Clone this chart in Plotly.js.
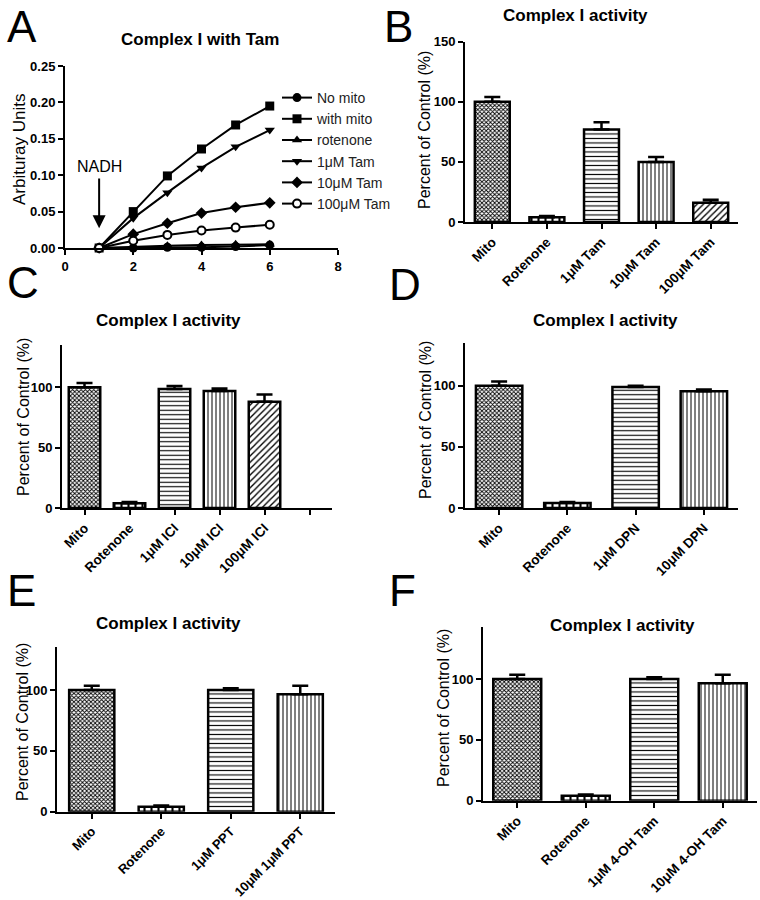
<!DOCTYPE html>
<html><head><meta charset="utf-8">
<script src="https://cdn.plot.ly/plotly-3.0.1.min.js"></script>
<style>html,body{margin:0;padding:0;background:#fff}</style>
</head><body><div id="chart" style="width:760px;height:900px"></div>
<script>
// ---- Panel A data ----
const aTime = [1, 2, 3, 4, 5, 6];
const aNames = ['No mito', 'with mito', 'rotenone', '1μM Tam', '10μM Tam', '100μM Tam'];
const aNoMito = [0, 0.000, 0.001, 0.001, 0.002, 0.004];
const aWithMito = [0, 0.050, 0.099, 0.136, 0.169, 0.195];
const aRotenone = [0, 0.002, 0.003, 0.004, 0.005, 0.005];
const aTam1 = [0, 0.041, 0.076, 0.110, 0.139, 0.162];
const aTam10 = [0, 0.019, 0.034, 0.048, 0.056, 0.062];
const aTam100 = [0, 0.010, 0.018, 0.024, 0.028, 0.032];
const aSymbols = ['circle', 'square', 'triangle-up', 'triangle-down', 'diamond', 'circle'];
const aXTicks = [0, 2, 4, 6, 8];
const aYTicks = [0, 0.05, 0.10, 0.15, 0.20, 0.25];

// ---- Bar panels ----
const bCats = ['Mito', 'Rotenone', '1μM Tam', '10μM Tam', '100μM Tam'];
const bVals = [100, 4, 77, 50, 16];
const bErr = [4, 1, 6, 4, 2.5];

const cCats = ['Mito', 'Rotenone', '1μM ICI', '10μM ICI', '100μM ICI', ' '];
const cVals = [100, 4, 98.5, 97, 88, null];
const cErr = [3.5, 1, 2.5, 2, 6, 0];

const dCats = ['Mito', 'Rotenone', '1μM DPN', '10μM DPN'];
const dVals = [100, 4, 99, 95.5];
const dErr = [3.5, 1, 1, 1.5];

const eCats = ['Mito', 'Rotenone', '1μM PPT', '10μM 1μM PPT'];
const eVals = [100, 4, 100, 96.5];
const eErr = [3.5, 1, 1.5, 7];

const fCats = ['Mito', 'Rotenone', '1μM 4-OH Tam', '10μM 4-OH Tam'];
const fVals = [100, 4, 100, 96.5];
const fErr = [3.5, 1, 1.5, 7];

const barTitle = 'Complex I activity';
const barYLabel = 'Percent of Control (%)';
const aYLabel = 'Arbituray Units';
const barYTicks = [0, 50, 100];
const bYTicks = [0, 50, 100, 150];

// ---- styles ----
const FF = '"Liberation Sans", Arial, sans-serif';
const patShape = ['x', '|', '-', '|', '/', ''];
const patSize = [3, 7, 4.5, 4, 4.5, 4];
const patSol = [0.5, 0.3, 0.25, 0.25, 0.3, 0.3];

const W = 760, H = 900;
const dx = (a, b) => [a / W, b / W];
const dy = (top, bottom) => [1 - bottom / H, 1 - top / H];

const traces = [];
const aSeries = [aNoMito, aWithMito, aRotenone, aTam1, aTam10, aTam100];
aSeries.forEach((s, i) => {
  const open = i === 5;
  traces.push({
    type: 'scatter', mode: 'lines+markers', x: aTime, y: s, name: aNames[i],
    xaxis: 'x', yaxis: 'y', cliponaxis: false,
    line: {color: '#000', width: 2},
    marker: {symbol: aSymbols[i], size: open ? 8 : 9, color: open ? '#fff' : '#000',
             line: {color: '#000', width: open ? 2 : 0}}
  });
});

function barTrace(cats, vals, errs, idx, width) {
  const n = cats.length;
  return {
    type: 'bar', x: cats, y: vals, showlegend: false, width: width,
    xaxis: 'x' + idx, yaxis: 'y' + idx,
    marker: {color: '#fff', line: {color: '#000', width: 2.5},
      pattern: {shape: patShape.slice(0, n), size: patSize.slice(0, n), solidity: patSol.slice(0, n),
                fgcolor: '#000', bgcolor: '#fff', fillmode: 'replace'}},
    error_y: {type: 'data', symmetric: false, array: errs, arrayminus: errs.map(() => 0),
              color: '#000', thickness: 2.5, width: 8}
  };
}
traces.push(barTrace(bCats, bVals, bErr, 2, 0.64));
traces.push(barTrace(cCats, cVals, cErr, 3, 0.7));
traces.push(barTrace(dCats, dVals, dErr, 4, 0.68));
traces.push(barTrace(eCats, eVals, eErr, 5, 0.65));
traces.push(barTrace(fCats, fVals, fErr, 6, 0.7));

const axBase = {showline: true, linecolor: '#000', linewidth: 2, ticks: 'outside', ticklen: 5,
  tickwidth: 2, tickcolor: '#000', showgrid: false, zeroline: false, fixedrange: true,
  tickfont: {family: FF, size: 13, weight: 'bold', color: '#000'}};

function catX(domain, anchor, n, fs) {
  return Object.assign({}, axBase, {domain: domain, anchor: anchor, type: 'category',
    range: [-0.5, n - 0.5], tickangle: -45, tickfont: {family: FF, size: fs || 13.5, weight: 'bold', color: '#000'}});
}
function valY(domain, anchor, top, ticks) {
  return Object.assign({}, axBase, {domain: domain, anchor: anchor, range: [0, top],
    tickvals: ticks, ticktext: ticks.map(String)});
}

const layout = {
  width: W, height: H, margin: {l: 0, r: 0, t: 0, b: 0},
  paper_bgcolor: '#fff', plot_bgcolor: '#fff', showlegend: true,
  font: {family: FF, color: '#000'},
  legend: {x: 277 / W, xanchor: 'left', y: 1 - 82 / H, yanchor: 'top', bgcolor: 'rgba(0,0,0,0)',
           font: {family: FF, size: 14, color: '#222'}, tracegroupgap: 0},
  xaxis: Object.assign({}, axBase, {domain: dx(65, 338), anchor: 'y', range: [0, 8], tickvals: aXTicks,
    ticktext: aXTicks.map(String)}),
  yaxis: Object.assign({}, axBase, {domain: dy(66, 248), anchor: 'x', range: [0, 0.25], tickvals: aYTicks,
    ticktext: aYTicks.map(v => v.toFixed(2))}),
  xaxis2: catX(dx(465, 738), 'y2', bCats.length),
  yaxis2: valY(dy(41.7, 222), 'x2', 150, bYTicks),
  xaxis3: catX(dx(62, 332), 'y3', cCats.length),
  yaxis3: valY(dy(345, 508), 'x3', 135, barYTicks),
  xaxis4: catX(dx(465, 738), 'y4', dCats.length),
  yaxis4: valY(dy(343, 508), 'x4', 135, barYTicks),
  xaxis5: catX(dx(57, 335), 'y5', eCats.length, 13),
  yaxis5: valY(dy(646.7, 811.7), 'x5', 135.6, barYTicks),
  xaxis6: catX(dx(483, 757), 'y6', fCats.length),
  yaxis6: valY(dy(626.7, 800.7), 'x6', 143, barYTicks),
  annotations: []
};

function paperText(text, px, py, size, bold, xanchor, yanchor, angle) {
  return {text: text, xref: 'paper', yref: 'paper', x: px / W, y: 1 - py / H, showarrow: false,
    xanchor: xanchor || 'center', yanchor: yanchor || 'middle', textangle: angle || 0,
    font: {family: FF, size: size, color: '#000', weight: bold ? 'bold' : 'normal'}};
}
const letters = [['A', 5, 0], ['B', 382, 0], ['C', 5, 256], ['D', 387, 258], ['E', 5, 564], ['F', 387, 564]];
letters.forEach(l => layout.annotations.push(paperText(l[0], l[1], l[2], 44, false, 'left', 'top')));
layout.annotations.push(paperText('Complex I with Tam', 200, 40, 17, true));
layout.annotations.push(paperText(barTitle, 575, 15, 17, true));
layout.annotations.push(paperText(barTitle, 168, 320, 17, true));
layout.annotations.push(paperText(barTitle, 605, 320, 17, true));
layout.annotations.push(paperText(barTitle, 168, 623, 17, true));
layout.annotations.push(paperText(barTitle, 622, 625, 17, true));
// y-axis titles
layout.annotations.push(paperText(aYLabel, 20, 150, 17, false, 'center', 'middle', -90));
layout.annotations.push(paperText(barYLabel, 425, 130, 16, false, 'center', 'middle', -90));
layout.annotations.push(paperText(barYLabel, 23, 417, 16, false, 'center', 'middle', -90));
layout.annotations.push(paperText(barYLabel, 425, 420, 16, false, 'center', 'middle', -90));
layout.annotations.push(paperText(barYLabel, 22, 722, 16, false, 'center', 'middle', -90));
layout.annotations.push(paperText(barYLabel, 443, 708, 16, false, 'center', 'middle', -90));
layout.annotations.push({text: 'NADH', xref: 'x', yref: 'y', x: 1, y: 0.027, axref: 'x', ayref: 'y',
  ax: 1, ay: 0.112, showarrow: true, arrowhead: 2, arrowsize: 1.3, arrowwidth: 2, arrowcolor: '#000',
  standoff: 0, startstandoff: 2, font: {family: FF, size: 16, color: '#000'}});

Plotly.newPlot('chart', traces, layout, {staticPlot: true, displayModeBar: false});
</script></body></html>
